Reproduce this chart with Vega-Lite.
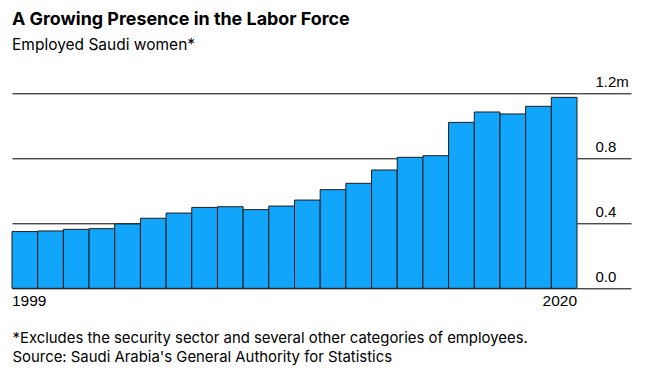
{
  "$schema": "https://vega.github.io/schema/vega-lite/v6.json",
  "width": 565,
  "height": 195,
  "autosize": {"type": "none"},
  "padding": {"left": 12, "top": 93.3, "right": 69, "bottom": 94.7},
  "background": "white",
  "title": {
    "text": "A Growing Presence in the Labor Force",
    "subtitle": "Employed Saudi women*",
    "anchor": "start",
    "frame": "group",
    "font": "Inter",
    "fontSize": 17.9,
    "fontWeight": "bold",
    "color": "#000000",
    "subtitleFont": "Inter",
    "subtitleFontSize": 15.5,
    "subtitleColor": "#000000",
    "subtitlePadding": 8.5,
    "offset": 21
  },
  "data": {
    "values": [
      {"year": 1999, "employed": 0.349},
      {"year": 2000, "employed": 0.353},
      {"year": 2001, "employed": 0.363},
      {"year": 2002, "employed": 0.367},
      {"year": 2003, "employed": 0.396},
      {"year": 2004, "employed": 0.431},
      {"year": 2005, "employed": 0.463},
      {"year": 2006, "employed": 0.498},
      {"year": 2007, "employed": 0.502},
      {"year": 2008, "employed": 0.484},
      {"year": 2009, "employed": 0.506},
      {"year": 2010, "employed": 0.543},
      {"year": 2011, "employed": 0.607},
      {"year": 2012, "employed": 0.646},
      {"year": 2013, "employed": 0.728},
      {"year": 2014, "employed": 0.806},
      {"year": 2015, "employed": 0.816},
      {"year": 2016, "employed": 1.021},
      {"year": 2017, "employed": 1.085},
      {"year": 2018, "employed": 1.073},
      {"year": 2019, "employed": 1.120},
      {"year": 2020, "employed": 1.175}
    ]
  },
  "mark": {"type": "bar", "fill": "#11a6fc", "stroke": "#1c1c1c", "strokeWidth": 1},
  "encoding": {
    "x": {
      "field": "year",
      "type": "ordinal",
      "scale": {"paddingInner": 0, "paddingOuter": 0},
      "axis": {
        "values": [1999, 2020],
        "labelAngle": 0,
        "ticks": false,
        "domain": false,
        "labelFont": "Liberation Sans",
        "labelFontSize": 15.5,
        "labelColor": "#000000",
        "labelBaseline": "top",
        "labelPadding": 5,
        "labelAlign": {"condition": {"test": "datum.value == 1999", "value": "left"}, "value": "right"},
        "labelOffset": {"condition": {"test": "datum.value == 1999", "value": -12.84}, "value": 12.84},
        "title": ["*Excludes the security sector and several other categories of employees.", "Source: Saudi Arabia's General Authority for Statistics"],
        "titleFont": "Inter",
        "titleFontSize": 14.9,
        "titleFontWeight": "normal",
        "titleColor": "#000000",
        "titleAnchor": "start",
        "titleAlign": "left",
        "titleBaseline": "alphabetic",
        "titleLineHeight": 18.5,
        "titleX": 0,
        "titleY": 54.2
      }
    },
    "y": {
      "field": "employed",
      "type": "quantitative",
      "scale": {"domain": [0, 1.2], "nice": false},
      "axis": {
        "orient": "right",
        "values": [0, 0.4, 0.8, 1.2],
        "domain": false,
        "grid": true,
        "gridColor": "#000000",
        "gridWidth": 1,
        "gridOpacity": 1,
        "tickSize": 54,
        "tickColor": "#000000",
        "tickWidth": 1,
        "labelAlign": "left",
        "labelBaseline": "alphabetic",
        "labelPadding": -36,
        "labelOffset": -7,
        "labelFont": "Liberation Sans",
        "labelFontSize": 15,
        "labelColor": "#000000",
        "labelExpr": "datum.value == 1.2 ? '1.2m' : format(datum.value, '.1f')",
        "title": null
      }
    }
  },
  "config": {"view": {"stroke": null}}
}
